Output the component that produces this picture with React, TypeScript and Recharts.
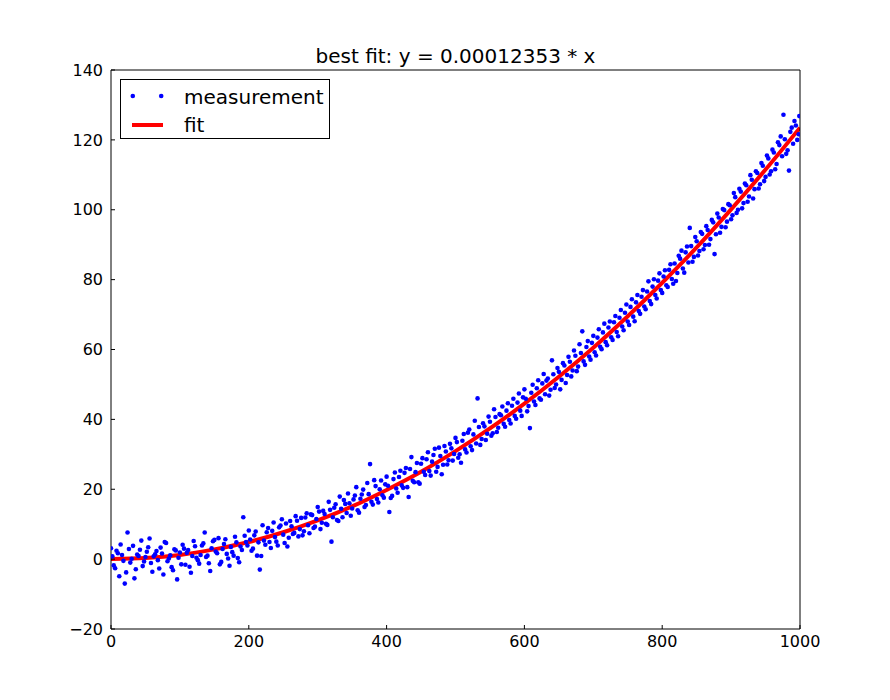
import {
  ComposedChart,
  Scatter,
  Line,
  XAxis,
  YAxis,
  Legend,
  Customized,
} from 'recharts';

const TITLE = 'best fit: y = 0.00012353 * x';
const X_TICKS = [0, 200, 400, 600, 800, 1000];
const Y_TICKS = [-20, 0, 20, 40, 60, 80, 100, 120, 140];

// fit curve
const FIT_X = [0, 50, 100, 150, 200, 250, 300, 350, 400, 450, 500, 550, 600, 650, 700, 750, 800, 850, 900, 950, 1000];
const FIT_Y = [0, 0.3, 1.2, 2.8, 4.9, 7.7, 11.1, 15.1, 19.8, 25.0, 30.9, 37.4, 44.5, 52.2, 60.5, 69.5, 79.1, 89.2, 100.1, 111.5, 123.5];

// measurement points, [x, y]
const MEAS_0_200 = [
  [0, 3.1], [4, -1.8], [8, 2.4], [12, -4.9], [16, 1.2], [20, -7.0], [24, 7.6], [28, -1.0], [32, 3.8], [36, -2.9],
  [40, 0.9], [44, 5.3], [48, -0.7], [52, 2.1], [56, 5.9], [60, -3.6], [64, 1.4], [68, -0.3], [72, 3.3], [76, -4.4],
  [80, 4.6], [84, 0.2], [88, -2.3], [92, 2.8], [96, -5.8], [100, 1.9], [104, 4.1], [108, -1.6], [112, 2.6], [116, -3.9],
  [120, 5.2], [124, 0.4], [128, -1.3], [132, 3.9], [136, 7.6], [140, 1.0], [144, -3.4], [148, 5.1], [152, 2.2], [156, 6.0],
  [160, -0.8], [164, 4.3], [168, 1.5], [172, -1.9], [176, 2.0], [180, 6.4], [184, 0.3], [188, 3.6], [192, 12.0], [196, 4.9],
  [2, 0.8], [6, -2.6], [10, 1.7], [14, 4.2], [18, -0.5], [22, -3.8], [26, 2.9], [30, 0.1], [34, -5.5], [38, 1.3],
  [42, 2.7], [46, -2.0], [50, 0.6], [54, 3.4], [58, -1.1], [62, 0.8], [66, 2.3], [70, -2.7], [74, 1.6], [78, 4.9],
  [82, -0.6], [86, 1.1], [90, -3.2], [94, 2.5], [98, 0.4], [102, -1.5], [106, 3.0], [110, 1.8], [114, -2.2], [118, 0.9],
  [122, 3.7], [126, -0.3], [130, 1.2], [134, 4.5], [138, 0.6], [142, -1.2], [146, 3.1], [150, 5.5], [154, 1.7], [158, -1.5],
  [162, 2.9], [166, 5.7], [170, 0.2], [174, 3.5], [178, 1.0], [182, 4.8], [186, -0.9], [190, 2.6], [194, 6.7], [198, 3.9],
];
const MEAS_200_400 = [
  [200, 8.2], [204, 2.4], [208, 6.8], [212, 1.0], [216, -3.0], [220, 9.7], [224, 4.1], [228, 8.9], [232, 3.2], [236, 10.5],
  [240, 5.0], [244, 9.1], [248, 11.4], [252, 4.6], [256, 3.6], [260, 10.9], [264, 7.2], [268, 12.3], [272, 6.5], [276, 11.8],
  [280, 8.0], [284, 13.1], [288, 7.4], [292, 12.6], [296, 9.3], [300, 14.9], [304, 8.6], [308, 13.8], [312, 10.1], [316, 16.4],
  [320, 5.0], [324, 14.7], [328, 11.2], [332, 17.9], [336, 12.0], [340, 15.8], [344, 18.8], [348, 12.4], [352, 17.1], [356, 20.6],
  [360, 13.3], [364, 18.5], [368, 14.9], [372, 21.8], [376, 27.2], [380, 15.6], [384, 20.9], [388, 16.2], [392, 22.5], [396, 17.6],
  [202, 5.6], [206, 3.0], [210, 7.9], [214, 4.8], [218, 0.9], [222, 5.3], [226, 7.7], [230, 4.9], [234, 8.1], [238, 6.3],
  [242, 3.9], [246, 9.6], [250, 7.0], [254, 10.2], [258, 6.1], [262, 9.4], [266, 7.5], [270, 11.0], [274, 8.6], [278, 6.8],
  [282, 11.9], [286, 9.7], [290, 12.8], [294, 8.9], [298, 11.5], [302, 13.6], [306, 10.4], [310, 12.9], [314, 9.8], [318, 14.1],
  [322, 12.0], [326, 15.7], [330, 10.9], [334, 14.4], [338, 16.9], [342, 13.2], [346, 16.0], [350, 14.5], [354, 18.2], [358, 14.0],
  [362, 17.3], [366, 19.9], [370, 15.5], [374, 18.6], [378, 16.4], [382, 22.6], [386, 17.2], [390, 20.0], [394, 18.3], [398, 21.4],
];
const MEAS_400_600 = [
  [400, 23.6], [404, 13.5], [408, 18.1], [412, 24.8], [416, 19.0], [420, 25.3], [424, 20.4], [428, 26.1], [432, 17.8], [436, 29.2],
  [440, 22.0], [444, 27.5], [448, 21.6], [452, 28.9], [456, 24.1], [460, 30.6], [464, 23.9], [468, 29.8], [472, 25.0], [476, 31.9],
  [480, 24.3], [484, 32.4], [488, 27.1], [492, 33.0], [496, 28.2], [500, 34.7], [504, 29.0], [508, 27.6], [512, 35.8], [516, 30.5],
  [520, 37.1], [524, 31.2], [528, 39.6], [532, 46.0], [536, 32.7], [540, 38.9], [544, 34.1], [548, 40.8], [552, 35.3], [556, 42.9],
  [560, 36.4], [564, 41.5], [568, 43.7], [572, 37.9], [576, 44.6], [580, 38.8], [584, 45.9], [588, 40.2], [592, 47.4], [596, 41.0],
  [402, 21.0], [406, 17.5], [410, 22.9], [414, 20.2], [418, 23.5], [422, 21.1], [426, 24.7], [430, 20.6], [434, 25.8], [438, 22.4],
  [442, 24.9], [446, 22.0], [450, 27.3], [454, 25.0], [458, 28.6], [462, 25.2], [466, 27.9], [470, 31.6], [474, 26.4], [478, 29.5],
  [482, 27.0], [486, 30.8], [490, 28.3], [494, 31.7], [498, 30.1], [502, 33.5], [506, 30.0], [510, 33.9], [514, 31.4], [518, 36.2],
  [522, 32.3], [526, 35.7], [530, 33.1], [534, 37.8], [538, 34.4], [542, 38.0], [546, 35.9], [550, 39.3], [554, 36.0], [558, 40.7],
  [562, 37.6], [566, 41.2], [570, 38.7], [574, 42.5], [578, 39.8], [582, 43.9], [586, 41.0], [590, 44.8], [594, 42.5], [598, 46.3],
];
const MEAS_600_800 = [
  [600, 48.6], [604, 42.3], [608, 37.5], [612, 49.9], [616, 44.1], [620, 51.2], [624, 45.6], [628, 53.0], [632, 51.1], [636, 46.8],
  [640, 56.9], [644, 49.0], [648, 54.7], [652, 48.6], [656, 56.1], [660, 50.4], [664, 57.9], [668, 52.3], [672, 59.7], [676, 53.8],
  [680, 61.5], [684, 65.2], [688, 55.6], [692, 62.4], [696, 57.1], [700, 63.9], [704, 58.3], [708, 65.8], [712, 60.1], [716, 67.4],
  [720, 61.2], [724, 68.0], [728, 62.7], [732, 69.6], [736, 63.8], [740, 71.3], [744, 65.5], [748, 72.9], [752, 67.0], [756, 74.4],
  [760, 68.1], [764, 75.6], [768, 70.2], [772, 77.0], [776, 71.5], [780, 79.5], [784, 73.0], [788, 80.1], [792, 74.6], [796, 81.8],
  [602, 45.9], [606, 43.8], [610, 47.6], [614, 45.1], [618, 48.9], [622, 46.0], [626, 50.3], [630, 47.2], [634, 51.7], [638, 48.5],
  [642, 52.9], [646, 50.0], [650, 53.6], [654, 51.3], [658, 55.4], [662, 52.7], [666, 56.5], [670, 54.0], [674, 58.2], [678, 55.1],
  [682, 59.0], [686, 56.6], [690, 60.7], [694, 58.0], [698, 61.9], [702, 59.2], [706, 63.4], [710, 60.8], [714, 64.9], [718, 62.1],
  [722, 66.3], [726, 63.5], [730, 67.8], [734, 65.0], [738, 69.1], [742, 66.6], [746, 70.5], [750, 68.0], [754, 72.2], [758, 69.4],
  [762, 73.5], [766, 71.0], [770, 75.1], [774, 72.3], [778, 76.6], [782, 73.9], [786, 78.0], [790, 75.6], [794, 79.7], [798, 77.0],
];
const MEAS_800_1000 = [
  [800, 76.2], [804, 82.7], [808, 77.9], [812, 84.4], [816, 78.8], [820, 79.6], [824, 86.8], [828, 88.3], [832, 82.0], [836, 89.5],
  [840, 94.8], [844, 85.1], [848, 92.2], [852, 86.9], [856, 93.6], [860, 88.7], [864, 95.3], [868, 90.0], [872, 97.1], [876, 87.3],
  [880, 98.9], [884, 93.4], [888, 100.2], [892, 95.0], [896, 101.6], [900, 97.3], [904, 104.8], [908, 99.1], [912, 106.0], [916, 100.4],
  [920, 107.5], [924, 102.3], [928, 109.9], [932, 103.2], [936, 111.0], [940, 106.1], [944, 113.4], [948, 108.2], [952, 115.5], [956, 110.1],
  [960, 117.2], [964, 111.6], [968, 119.3], [972, 121.0], [976, 127.2], [980, 116.0], [984, 111.2], [988, 123.5], [992, 125.4], [996, 120.0],
  [999, 126.8],
  [802, 80.9], [806, 78.4], [810, 82.8], [814, 80.2], [818, 84.6], [822, 81.9], [826, 86.0], [830, 83.2], [834, 87.8], [838, 84.9],
  [842, 89.6], [846, 86.5], [850, 91.0], [854, 88.2], [858, 93.1], [862, 89.9], [866, 94.2], [870, 91.6], [874, 96.4], [878, 93.0],
  [882, 97.8], [886, 95.1], [890, 99.9], [894, 96.6], [898, 101.3], [902, 98.4], [906, 103.6], [910, 100.0], [914, 105.2], [918, 101.9],
  [922, 107.0], [926, 103.8], [930, 108.6], [934, 105.9], [938, 110.5], [942, 107.3], [946, 112.6], [950, 109.4], [954, 114.7], [958, 111.0],
  [962, 116.4], [966, 113.1], [970, 118.5], [974, 115.3], [978, 120.2], [982, 117.0], [986, 122.3], [990, 118.9], [994, 124.1], [998, 121.6],
];

const FONT = '"DejaVu Sans", sans-serif';
const BLUE = '#0000ff';
const RED = '#ff0000';

const measData = [...MEAS_0_200, ...MEAS_200_400, ...MEAS_400_600, ...MEAS_600_800, ...MEAS_800_1000].map(
  ([x, y]) => ({ x, y }),
);
const fitData = FIT_X.map((x, i) => ({ x, y: FIT_Y[i] }));

const fmtTick = (v: number) => (v < 0 ? `\u2212${Math.abs(v)}` : String(v));
const noLabel = () => '';
const tickStyle = { fill: '#000', fontSize: 16, fontFamily: FONT };

function Dot(props: any) {
  return <circle cx={props.cx} cy={props.cy} r={2.3} fill={BLUE} />;
}

function LegendBox() {
  return (
    <svg width={211} height={61} style={{ display: 'block' }}>
      <rect x={0.5} y={0.5} width={209} height={59} fill="#fff" stroke="#000" />
      <circle cx={12.8} cy={17} r={2.3} fill={BLUE} />
      <circle cx={41.2} cy={17} r={2.3} fill={BLUE} />
      <line x1={12} x2={43} y1={46} y2={46} stroke={RED} strokeWidth={4} />
      <text x={64} y={24.5} fontSize={20} fontFamily={FONT} fill="#000">measurement</text>
      <text x={64} y={53} fontSize={20} fontFamily={FONT} fill="#000">fit</text>
    </svg>
  );
}

function Title() {
  return (
    <text x={455.5} y={63} textAnchor="middle" fontSize={20} fontFamily={FONT} fill="#000">
      {TITLE}
    </text>
  );
}

export default function App() {
  return (
    <div style={{ position: 'absolute', left: 0, top: 0, background: '#fff' }}>
      <ComposedChart width={890} height={700} margin={{ top: 69, right: 89, bottom: 41, left: 51 }}>
        <XAxis
          xAxisId="b"
          dataKey="x"
          type="number"
          domain={[0, 1000]}
          ticks={X_TICKS}
          height={30}
          stroke="#000"
          tickSize={-4}
          tickMargin={11}
          tickFormatter={fmtTick}
          tick={tickStyle}
          allowDataOverflow
        />
        <XAxis
          xAxisId="t"
          orientation="top"
          type="number"
          domain={[0, 1000]}
          ticks={X_TICKS}
          height={1}
          stroke="#000"
          tickSize={-4}
          tickFormatter={noLabel}
        />
        <YAxis
          yAxisId="l"
          dataKey="y"
          type="number"
          domain={[-20, 140]}
          ticks={Y_TICKS}
          width={60}
          stroke="#000"
          tickSize={-4}
          tickMargin={12}
          tickFormatter={fmtTick}
          tick={tickStyle}
          allowDataOverflow
        />
        <YAxis
          yAxisId="r"
          orientation="right"
          type="number"
          domain={[-20, 140]}
          ticks={Y_TICKS}
          width={1}
          stroke="#000"
          tickSize={-4}
          tickFormatter={noLabel}
        />
        <Scatter
          xAxisId="b"
          yAxisId="l"
          data={measData}
          dataKey="y"
          shape={Dot}
          isAnimationActive={false}
        />
        <Line
          xAxisId="b"
          yAxisId="l"
          data={fitData}
          dataKey="y"
          type="monotone"
          stroke={RED}
          strokeWidth={4}
          dot={false}
          isAnimationActive={false}
        />
        <Legend
          layout="horizontal"
          verticalAlign="middle"
          align="center"
          wrapperStyle={{ left: 120, top: 79, width: 211, height: 61 }}
          content={LegendBox}
        />
        <Customized component={Title} />
      </ComposedChart>
    </div>
  );
}
